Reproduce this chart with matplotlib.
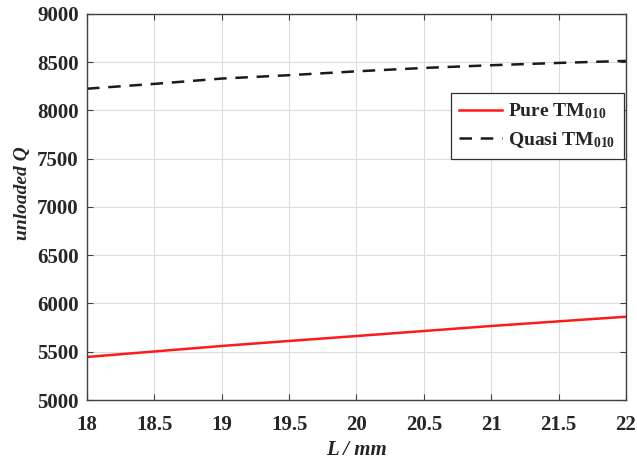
import matplotlib
matplotlib.use("Agg")
import matplotlib.pyplot as plt

plt.rcParams['font.family'] = ['Liberation Serif', 'DejaVu Serif']
plt.rcParams['mathtext.fontset'] = 'custom'
plt.rcParams['mathtext.rm'] = 'Liberation Serif:bold'
plt.rcParams['mathtext.bf'] = 'Liberation Serif:bold'
plt.rcParams['mathtext.it'] = 'Liberation Serif:bold:italic'

L = [18, 18.5, 19, 19.5, 20, 20.5, 21, 21.5, 22]
pure_q = [5446, 5503, 5560, 5612, 5663, 5715, 5767, 5815, 5863]
quasi_q = [8225, 8275, 8330, 8365, 8405, 8440, 8468, 8492, 8513]
xticks = [18, 18.5, 19, 19.5, 20, 20.5, 21, 21.5, 22]
yticks = [5000, 5500, 6000, 6500, 7000, 7500, 8000, 8500, 9000]

fig = plt.figure(figsize=(6.37, 4.63), dpi=100)
ax = fig.add_axes([0.1366, 0.136, 0.846, 0.834])

ax.plot(L, pure_q, color='#ff1a1a', lw=1.8, label=r'Pure TM$_{\mathbf{010}}$')
ax.plot(L, quasi_q, color='#1a1a1a', lw=1.8, ls=(0, (5, 3.5)), label=r'Quasi TM$_{\mathbf{010}}$')

ax.set_xlim(18, 22)
ax.set_ylim(5000, 9000)
ax.set_xticks(xticks)
ax.set_xticklabels([('%g' % v) for v in xticks])
ax.set_yticks(yticks)
ax.grid(True, color='#dcdcdc', lw=0.8)
ax.set_axisbelow(True)
for s in ax.spines.values():
    s.set_color('#404040')
    s.set_linewidth(1.0)
ax.tick_params(direction='in', top=True, right=True, length=4, color='#404040',
               labelsize=15, labelcolor='#262626')
ax.tick_params(axis='x', pad=10.5)
ax.tick_params(axis='y', pad=6)
for lab in ax.get_xticklabels() + ax.get_yticklabels():
    lab.set_fontweight('bold')

ax.set_xlabel('L / mm', fontsize=15, fontweight='bold', style='italic', color='#262626', labelpad=4)
ax.set_ylabel('unloaded Q', fontsize=14, fontweight='bold', style='italic', color='#262626', labelpad=4)
ax.yaxis.set_label_coords(-0.104, 0.535)

leg = ax.legend(loc='upper right', bbox_to_anchor=(0.996, 0.795), prop={'weight': 'bold', 'size': 14},
                fancybox=False, edgecolor='#303030', framealpha=1, handlelength=2.2,
                borderpad=0.45, labelspacing=0.45, handletextpad=0.3, borderaxespad=0)
leg.get_frame().set_linewidth(0.9)
for t in leg.get_texts():
    t.set_color('#262626')

fig.savefig('out.png', dpi=100)
